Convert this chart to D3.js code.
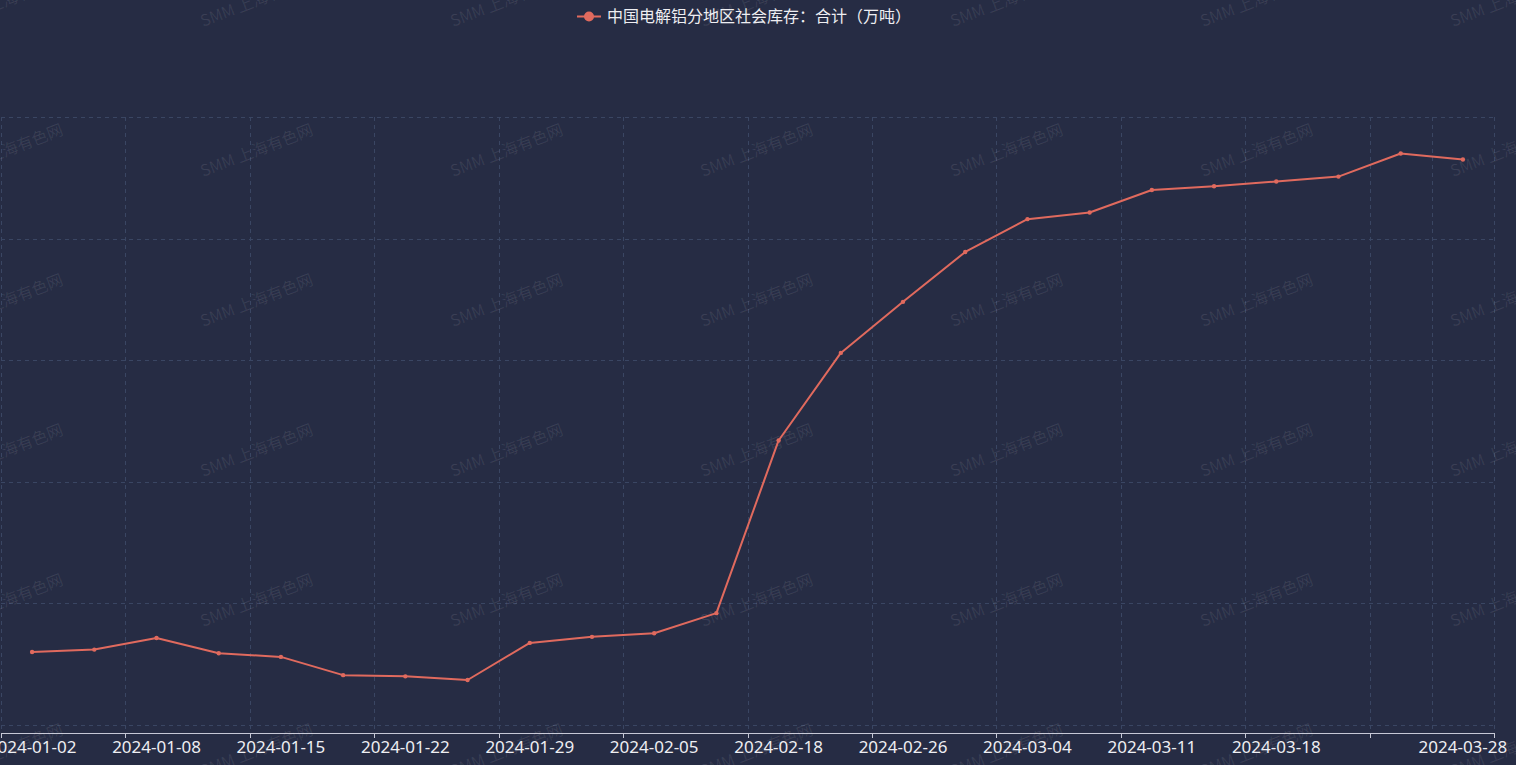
<!DOCTYPE html>
<html><head><meta charset="utf-8">
<script src="https://cdn.jsdelivr.net/npm/d3@7/dist/d3.min.js"></script>
<style>
html,body{margin:0;padding:0;background:#262c44;overflow:hidden}
svg{display:block}
</style></head>
<body>
<svg id="chart" width="1516" height="765"></svg>
<script>
const categories = ["2024-01-02","2024-01-04","2024-01-08","2024-01-11","2024-01-15","2024-01-18","2024-01-22","2024-01-25","2024-01-29","2024-02-01","2024-02-05","2024-02-08","2024-02-18","2024-02-22","2024-02-26","2024-02-29","2024-03-04","2024-03-07","2024-03-11","2024-03-14","2024-03-18","2024-03-21","2024-03-25","2024-03-28"];
const seriesName = "中国电解铝分地区社会库存：合计（万吨）";
const values = [46.0,46.2,47.15,45.9,45.6,44.1,44.0,43.7,46.75,47.25,47.55,49.2,63.4,70.6,74.8,78.9,81.6,82.15,84.0,84.3,84.7,85.1,87.0,86.5];
const yTicks = [40,50,60,70,80,90];
const shownLabels = ["2024-01-02","2024-01-08","2024-01-15","2024-01-22","2024-01-29","2024-02-05","2024-02-18","2024-02-26","2024-03-04","2024-03-11","2024-03-18","2024-03-28"];
const watermark = "SMM 上海有色网";

(function(){
const W = 1516, H = 765;
const pLeft = 1, pRight = 1494, pTop = 117, gridBottom = 725, axisY = 733;
const svg = d3.select("#chart");
const bg = "#262c44", lineColor = "#e06a5e", gridColor = "#3a4663";

svg.append("rect").attr("width", W).attr("height", H).attr("fill", bg);

const x = d3.scaleBand().domain(categories).range([pLeft, pRight]).paddingInner(0).paddingOuter(0);
const y = d3.scaleLinear().domain([40, 90]).range([gridBottom, pTop]);

const g = svg.append("g");
g.selectAll("line.h").data(yTicks).join("line")
  .attr("x1", pLeft).attr("x2", pRight)
  .attr("y1", d => Math.round(y(d)) + 0.5).attr("y2", d => Math.round(y(d)) + 0.5)
  .attr("stroke", gridColor).attr("stroke-width", 1).attr("stroke-dasharray", "4,4");

const gridIdx = [];
for (let i = 0; i < categories.length; i += 2) gridIdx.push(i);
gridIdx.push(categories.length - 1);
const vx = gridIdx.map(i => x(categories[i]));
vx.push(pRight);
g.selectAll("line.v").data(vx).join("line")
  .attr("x1", d => Math.round(d) + 0.5).attr("x2", d => Math.round(d) + 0.5)
  .attr("y1", pTop).attr("y2", axisY)
  .attr("stroke", gridColor).attr("stroke-width", 1).attr("stroke-dasharray", "4,4");

const axisColor = "#c6c8d6";
svg.append("line").attr("x1", pLeft).attr("x2", pRight).attr("y1", axisY + 0.5).attr("y2", axisY + 0.5)
  .attr("stroke", axisColor).attr("stroke-width", 1);
const tickX = [];
for (let i = 0; i < categories.length; i += 2) tickX.push(x(categories[i]));
tickX.push(pRight);
svg.selectAll("line.tick").data(tickX).join("line")
  .attr("x1", d => Math.round(d) + 0.5).attr("x2", d => Math.round(d) + 0.5)
  .attr("y1", axisY).attr("y2", axisY + 5)
  .attr("stroke", axisColor).attr("stroke-width", 1);
svg.selectAll("text.xl").data(shownLabels).join("text")
  .attr("x", d => x(d) + x.bandwidth() / 2)
  .attr("y", 753)
  .attr("text-anchor", "middle")
  .attr("font-family", "'Noto Sans', 'Noto Sans CJK SC', sans-serif")
  .attr("font-size", 17)
  .attr("fill", "#eeeef2")
  .text(d => d);

const wm = svg.append("g").attr("pointer-events", "none");
for (let r = 0; r < 6; r++) {
  for (let c = 0; c < 7; c++) {
    const tx = -47 + c * 250, ty = 27 + r * 150;
    wm.append("text")
      .attr("transform", `translate(${tx},${ty}) rotate(-21)`)
      .attr("font-family", "'Noto Sans CJK SC', 'Noto Sans', sans-serif")
      .attr("font-size", 16)
      .attr("fill", "rgba(255,255,255,0.09)")
      .text(watermark);
  }
}

const line = d3.line().x((d, i) => x(categories[i]) + x.bandwidth() / 2).y(d => y(d));
svg.append("path").datum(values).attr("d", line)
  .attr("fill", "none").attr("stroke", lineColor).attr("stroke-width", 2).attr("stroke-linejoin", "round");
svg.selectAll("circle.pt").data(values).join("circle")
  .attr("cx", (d, i) => x(categories[i]) + x.bandwidth() / 2)
  .attr("cy", d => y(d))
  .attr("r", 2.2)
  .attr("fill", lineColor);

const lg = svg.append("g");
lg.append("line").attr("x1", 577).attr("x2", 601).attr("y1", 16.5).attr("y2", 16.5)
  .attr("stroke", lineColor).attr("stroke-width", 2);
lg.append("circle").attr("cx", 589).attr("cy", 16.5).attr("r", 5).attr("fill", lineColor);
lg.append("text").attr("x", 607).attr("y", 22)
  .attr("font-family", "'Noto Sans CJK SC', sans-serif")
  .attr("font-size", 16)
  .attr("fill", "#eeeef2")
  .text(seriesName);
})();
</script>
</body></html>
